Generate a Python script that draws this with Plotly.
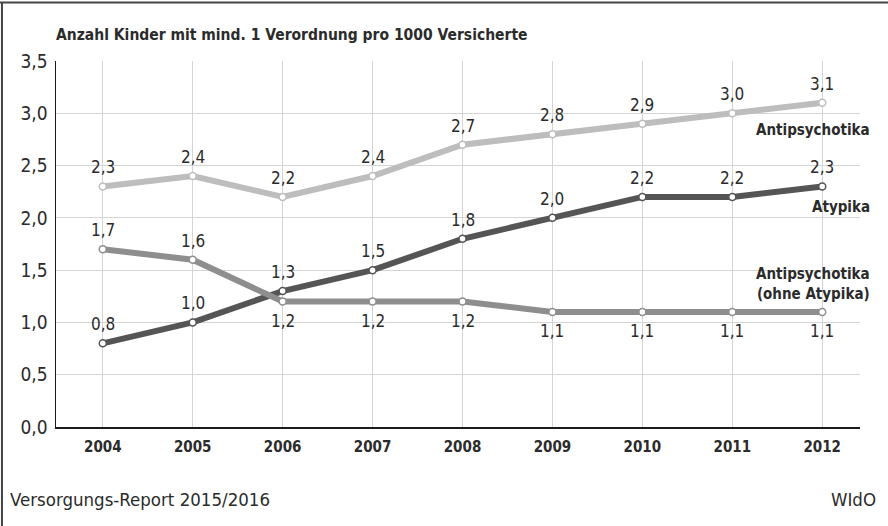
import plotly.graph_objects as go

years = [2004, 2005, 2006, 2007, 2008, 2009, 2010, 2011, 2012]
antipsychotika = [2.3, 2.4, 2.2, 2.4, 2.7, 2.8, 2.9, 3.0, 3.1]
atypika = [0.8, 1.0, 1.3, 1.5, 1.8, 2.0, 2.2, 2.2, 2.3]
ohne_atypika = [1.7, 1.6, 1.2, 1.2, 1.2, 1.1, 1.1, 1.1, 1.1]
ohne_label_side = [1, 1, -1, -1, -1, -1, -1, -1, -1]
y_ticks = [0, 0.5, 1.0, 1.5, 2.0, 2.5, 3.0, 3.5]

FONT = "Liberation Sans Narrow, DejaVu Sans Condensed, Arial Narrow, sans-serif"
TXT = "#2b2b2b"

def fmt(v):
    return f"{v:.1f}".replace(".", ",")

fig = go.Figure()
annotations = []

def add_series(y, color, sides):
    fig.add_trace(go.Scatter(
        x=years, y=y, mode="lines+markers",
        line=dict(color=color, width=6),
        marker=dict(size=7, color="white", line=dict(color=color, width=1.5)),
        cliponaxis=False, showlegend=False, hoverinfo="skip",
    ))
    for xv, yv, s in zip(years, y, sides):
        annotations.append(dict(
            x=xv, y=yv, xref="x", yref="y", text=fmt(yv), showarrow=False,
            xanchor="center", yanchor="middle", yshift=19 * s,
            font=dict(family=FONT, size=17, color=TXT),
        ))

add_series(atypika, "#555555", [1] * len(years))
add_series(ohne_atypika, "#8e8e8e", ohne_label_side)
add_series(antipsychotika, "#bdbdbd", [1] * len(years))

annotations += [
    dict(text="<b>Anzahl Kinder mit mind. 1 Verordnung pro 1000 Versicherte</b>",
         xref="paper", yref="paper", x=-0.002, y=1.041, xanchor="left", yanchor="bottom",
         showarrow=False, font=dict(family=FONT, size=15.5, color=TXT)),
    dict(text="<b>Antipsychotika</b>", xref="paper", yref="y", x=1.015, y=2.84,
         xanchor="right", yanchor="middle", showarrow=False,
         font=dict(family=FONT, size=15, color=TXT)),
    dict(text="<b>Atypika</b>", xref="paper", yref="y", x=1.015, y=2.1,
         xanchor="right", yanchor="middle", showarrow=False,
         font=dict(family=FONT, size=15, color=TXT)),
    dict(text="<b>Antipsychotika<br>(ohne Atypika)</b>", xref="paper", yref="y",
         x=1.015, y=1.37, xanchor="right", yanchor="middle", align="right",
         showarrow=False, font=dict(family=FONT, size=15, color=TXT)),
    dict(text="Versorgungs-Report 2015/2016", xref="paper", yref="paper",
         x=-0.0597, y=-0.199, xanchor="left", yanchor="middle", showarrow=False,
         font=dict(family=FONT, size=18.5, color=TXT)),
    dict(text="WIdO", xref="paper", yref="paper", x=1.0224, y=-0.199,
         xanchor="right", yanchor="middle", showarrow=False,
         font=dict(family=FONT, size=18.5, color=TXT)),
]

fig.update_layout(
    width=888, height=526,
    margin=dict(l=56, r=28, t=61, b=99),
    paper_bgcolor="white", plot_bgcolor="white",
    font=dict(family=FONT, color=TXT),
    xaxis=dict(
        range=[2003.48, 2012.42], tickmode="array", tickvals=years,
        ticktext=[f"<b>{y}</b>" for y in years],
        tickfont=dict(family=FONT, size=15, color=TXT),
        showgrid=True, gridcolor="#d4d4d4", gridwidth=1,
        showline=True, linecolor="#1a1a1a", linewidth=1.5,
        ticks="", zeroline=False, ticklabelstandoff=5,
    ),
    yaxis=dict(
        range=[0, 3.5], tickmode="array", tickvals=y_ticks,
        ticktext=[fmt(v) for v in y_ticks],
        tickfont=dict(family=FONT, size=19, color=TXT),
        showgrid=True, gridcolor="#d4d4d4", gridwidth=1,
        showline=True, linecolor="#1a1a1a", linewidth=1.5,
        ticks="", zeroline=False, ticklabelstandoff=3,
    ),
    shapes=[
        dict(type="line", xref="paper", yref="paper", x0=-0.07, x1=1.05,
             y0=1.160, y1=1.160, line=dict(color="#444", width=2)),
        dict(type="line", xref="paper", yref="paper", x0=-0.0672, x1=-0.0672,
             y0=-0.3, y1=1.160, line=dict(color="#444", width=2)),
    ],
    annotations=annotations,
)

fig.write_html("out.html", config={"displayModeBar": False, "staticPlot": True},
               post_script="document.body.style.margin='0';document.body.style.padding='0';")
